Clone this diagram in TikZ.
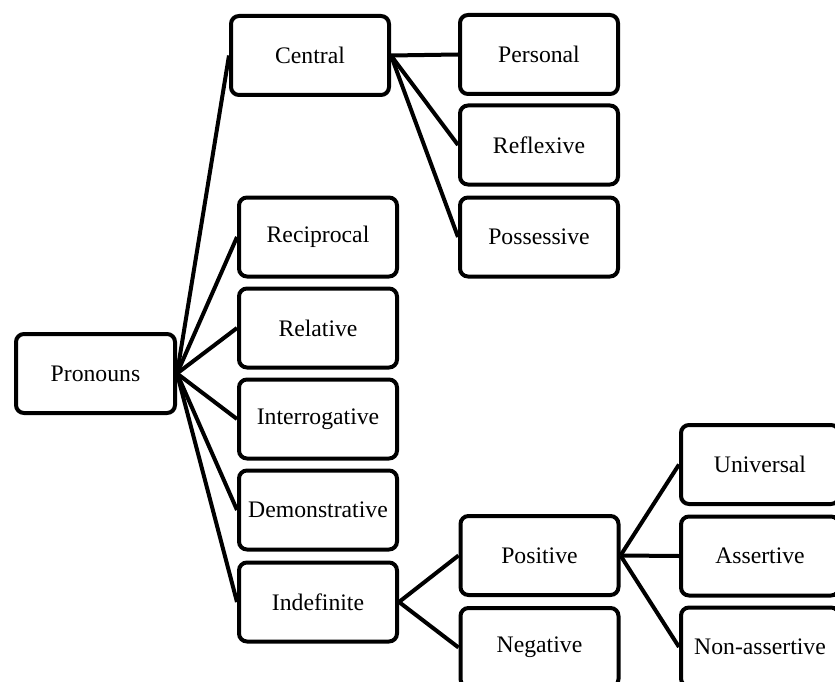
\documentclass[tikz,border=0pt]{standalone}
\usepackage{fontspec}
\setmainfont{Liberation Serif}
\begin{document}
\begin{tikzpicture}[x=1pt,y=-1pt,
  box/.style={draw=black, line width=4pt, rounded corners=8pt, rectangle,
    minimum width=158pt, minimum height=79pt, inner sep=0pt,
    font=\fontsize{23.7}{28}\selectfont, fill=white},
  link/.style={line width=4pt, draw=black}]
\useasboundingbox (0,0) rectangle (835,682);
\clip (0,0) rectangle (835,682);
\node[box, minimum width=159pt] (pron) at (95.5,373.5) {Pronouns};
\node[box] (cen) at (310,55.5) {Central};
\node[box] (per) at (539,54.5) {Personal};
\node[box] (ref) at (539,145) {Reflexive};
\node[box] (pos) at (539,237) {Possessive};
\node[box] (rec) at (318,237) {Reciprocal};
\node[box] (rel) at (318,328) {Relative};
\node[box] (int) at (318,419) {Interrogative};
\node[box] (dem) at (318,510) {Demonstrative};
\node[box] (ind) at (318,602) {Indefinite};
\node[box] (posi) at (539.5,555.5) {Positive};
\node[box] (neg) at (539.5,647.5) {Negative};
\node[box] (uni) at (760,464.5) {Universal};
\node[box] (ass) at (760,556) {Assertive};
\node[box] (non) at (760,647) {Non-assertive};
\foreach \t in {cen,rec,rel,int,dem,ind} \draw[link] (pron.east) -- (\t.west);
\foreach \t in {per,ref,pos} \draw[link] (cen.east) -- (\t.west);
\foreach \t in {posi,neg} \draw[link] (ind.east) -- (\t.west);
\foreach \t in {uni,ass,non} \draw[link] (posi.east) -- (\t.west);
\end{tikzpicture}
\end{document}
